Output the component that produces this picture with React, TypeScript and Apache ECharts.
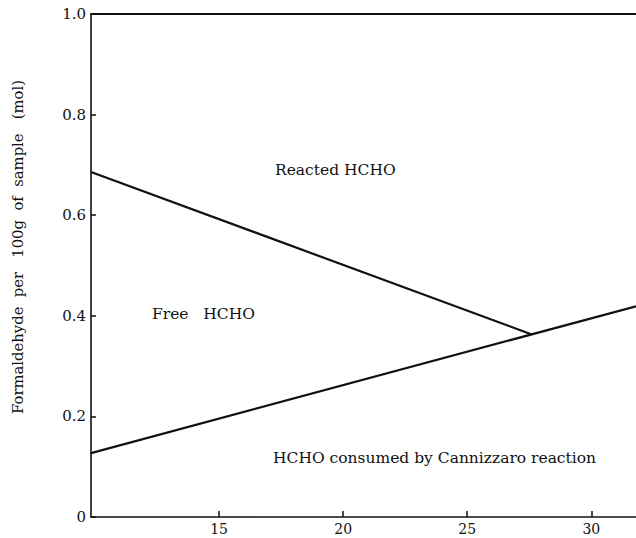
import React, { useEffect, useRef } from "react";
import * as echarts from "echarts";

// Reaction temperature axis range and tick positions
const xRange = [9.84, 31.8];
const xTicks = [15, 20, 25, 30];

// Boundary between reacted and free formaldehyde (mol / 100 g)
const reactedBoundary: [number, number][] = [
  [9.84, 0.686],
  [27.6, 0.363],
];

// Boundary between free formaldehyde and HCHO consumed by Cannizzaro reaction
const cannizzaroBoundary: [number, number][] = [
  [9.84, 0.127],
  [31.8, 0.419],
];

const yAxisTitle = "Formaldehyde  per   100g  of  sample   (mol)";
const regionLabels = [
  { text: "Reacted HCHO", x: 275, y: 170 },
  { text: "Free   HCHO", x: 152, y: 314 },
  { text: "HCHO consumed by Cannizzaro reaction", x: 273, y: 458 },
];

const FONT = "'DejaVu Serif', 'Liberation Serif', serif";
const INK = "#111111";

export default function App() {
  const ref = useRef<HTMLDivElement>(null);

  useEffect(() => {
    if (!ref.current) return;
    const chart = echarts.init(ref.current, undefined, { renderer: "svg" });

    const lineStyle = { color: INK, width: 2.2 };

    chart.setOption({
      animation: false,
      backgroundColor: "#ffffff",
      grid: { left: 91, right: 0, top: 14, bottom: 21, containLabel: false },
      xAxis: [
        {
          type: "value",
          min: xRange[0],
          max: xRange[1],
          position: "bottom",
          splitLine: { show: false },
          axisLine: { show: true, lineStyle: { color: INK, width: 1.6 } },
          axisTick: {
            show: true,
            inside: true,
            length: 6,
            customValues: xTicks,
            lineStyle: { color: INK, width: 1.5 },
          },
          axisLabel: {
            customValues: xTicks,
            margin: 5,
            color: INK,
            fontFamily: FONT,
            fontSize: 14,
          },
        },
        {
          type: "value",
          min: xRange[0],
          max: xRange[1],
          position: "top",
          splitLine: { show: false },
          axisLine: { show: true, lineStyle: { color: INK, width: 1.8 } },
          axisTick: { show: false },
          axisLabel: { show: false },
        },
      ],
      yAxis: {
        type: "value",
        min: 0,
        max: 1,
        interval: 0.2,
        splitLine: { show: false },
        axisLine: { show: true, lineStyle: { color: INK, width: 1.6 } },
        axisTick: {
          show: true,
          inside: true,
          length: 5,
          lineStyle: { color: INK, width: 1.5 },
        },
        axisLabel: {
          margin: 5,
          color: INK,
          fontFamily: FONT,
          fontSize: 15,
          formatter: (v: number) => (v === 0 ? "0" : v.toFixed(1)),
        },
      },
      series: [
        {
          type: "line",
          data: reactedBoundary,
          showSymbol: false,
          lineStyle,
          silent: true,
        },
        {
          type: "line",
          data: cannizzaroBoundary,
          showSymbol: false,
          lineStyle,
          silent: true,
        },
      ],
      graphic: [
        {
          type: "text",
          x: 17,
          y: 247,
          rotation: Math.PI / 2,
          style: {
            text: yAxisTitle,
            fill: INK,
            font: `14.8px ${FONT}`,
            align: "center",
            verticalAlign: "middle",
          },
        },
        ...regionLabels.map((l) => ({
          type: "text",
          x: l.x,
          y: l.y,
          style: {
            text: l.text,
            fill: INK,
            font: `15.5px ${FONT}`,
            align: "left",
            verticalAlign: "middle",
          },
        })),
      ],
    });

    return () => chart.dispose();
  }, []);

  return (
    <div
      ref={ref}
      style={{ position: "fixed", left: 0, top: 0, width: 636, height: 538 }}
    />
  );
}
